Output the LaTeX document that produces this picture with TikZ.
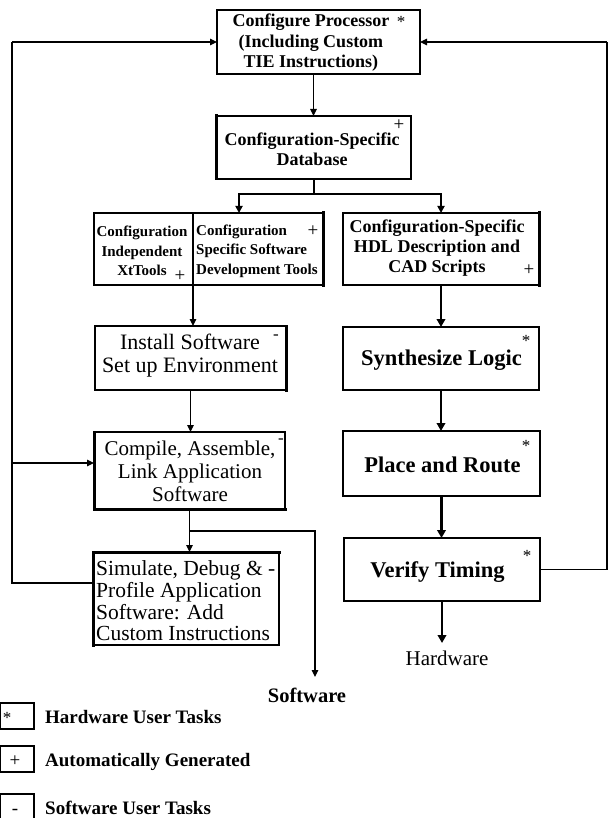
\documentclass[tikz,border=0pt]{standalone}
\usepackage{fontspec}
\setmainfont{Liberation Serif}
\usetikzlibrary{arrows.meta,calc}
\tikzset{
  box/.style={draw, line width=1.5pt, inner sep=0pt, outer sep=0pt},
  side/.style={line width=#1, line cap=rect},
  ln/.style={line width=1.2pt},
  arr/.style={line width=1.2pt, -{Triangle[length=7pt,width=6.5pt]}},
  midarr/.style={line width=2pt, -{Triangle[length=7pt,width=7pt]}},
  thk/.style={line width=2.8pt, -{Triangle[length=8pt,width=8.5pt]}},
  tb18/.style={font=\fontsize{18}{20.5}\selectfont\bfseries, align=center, inner sep=0pt},
  tb15/.style={font=\fontsize{15}{19.5}\selectfont\bfseries, align=center, inner sep=0pt},
  tr22/.style={font=\fontsize{22}{23}\selectfont, align=center, inner sep=0pt},
  tr21/.style={font=\fontsize{21}{23}\selectfont, align=center, inner sep=0pt},
  tb22/.style={font=\fontsize{22.5}{24}\selectfont\bfseries, inner sep=0pt},
  lgd/.style={font=\fontsize{19}{22}\selectfont\bfseries, inner sep=0pt, anchor=west},
  sym/.style={font=\fontsize{19}{19}\selectfont, inner sep=0pt},
  dsh/.style={font=\fontsize{17}{17}\selectfont, inner sep=0pt},
  star/.style={font=\fontsize{17}{17}\selectfont, inner sep=0pt},
}
\begin{document}
\begin{tikzpicture}[x=1pt,y=-1pt]
\useasboundingbox (0,0) rectangle (614,818);

% ---- top box
\node[box, line width=1.7pt, minimum width=203pt, minimum height=64pt] (top) at (318.5,42) {};
\node[tb18] (topt) at (311,43) {Configure Processor\\(Including Custom\\TIE Instructions)};
\node[star] (tops) at (401,22) {*};

% ---- database
\node[box, line width=1.3pt, minimum width=195pt, minimum height=63pt] (db) at (313.5,147.5) {};
\draw[side=3pt] (db.north west) -- (db.south west);
\node[tb18] (dbt) at (312,149.5) {Configuration-Specific\\Database};
\node[sym] (dbs) at (399,125) {+};

% ---- split software tools box
\node[box, minimum width=99pt, minimum height=72pt] (sl) at (143.5,249) {};
\node[box, minimum width=130pt, minimum height=72pt] (sr) at (258,249) {};
\draw[side=2.6pt] (sl.north west) -- (sr.north east);
\draw[side=3pt] (sr.north east) -- (sr.south east);
\draw[side=2.2pt] (sl.north west) -- (sl.south west);
\node[tb15] (slt) at (142,251) {Configuration\\Independent\\XtTools};
\node[sym] (sls) at (180,276) {+};
\node[tb15, align=left, anchor=west] (srt) at (196,251) {Configuration\\Specific Software\\Development Tools};
\node[sym] (srs) at (313,231) {+};

% ---- HDL box
\node[box, minimum width=196pt, minimum height=72pt] (hdl) at (441,249) {};
\draw[side=2.6pt] (hdl.north west) -- (hdl.north east);
\draw[side=3pt] (hdl.north east) -- (hdl.south east);
\node[tb18, font=\fontsize{18}{20}\selectfont\bfseries] (hdlt) at (437,248) {Configuration-Specific\\HDL Description and\\CAD Scripts};
\node[sym] (hdls) at (529,270) {+};

% ---- install
\node[box, line width=2.5pt, minimum width=191pt, minimum height=64pt] (inst) at (190.5,358) {};
\draw[side=3pt] (inst.north east) -- (inst.south east);
\node[tr22] (instt) at (190,356) {Install Software\\Set up Environment};
\node[dsh] (insts) at (276,337) {-};

% ---- compile
\node[box, line width=1.4pt, minimum width=191pt, minimum height=77pt] (comp) at (189.5,470.5) {};
\draw[side=3pt] (comp.north west) -- (comp.south west);
\draw[side=3pt] (comp.south west) -- (comp.south east);
\node[tr21] (compt) at (190,471) {Compile, Assemble,\\Link Application\\Software};
\node[dsh] (comps) at (281,441) {-};

% ---- simulate
\node[box, line width=1.8pt, minimum width=186pt, minimum height=93pt] (sim) at (186,598.5) {};
\draw[side=3pt] (sim.north west) -- (sim.north east);
\draw[side=3pt] (sim.north west) -- (sim.south west);
\node[font=\fontsize{21.5}{21.7}\selectfont, align=left, anchor=west, inner sep=0pt] (simt) at (96,601) {Simulate, Debug \& -\\Profile Application\\Software: Add\\Custom Instructions};

% ---- hardware flow
\node[box, line width=2.7pt, minimum width=196pt, minimum height=63pt] (syn) at (441,358.5) {};
\node[tb22] (synt) at (441.5,360) {Synthesize Logic};
\node[star] (syns) at (526,341) {*};

\node[box, line width=2.5pt, minimum width=197pt, minimum height=65pt] (place) at (441.5,463.5) {};
\node[tb22] (placet) at (442.5,465) {Place and Route};
\node[star] (places) at (526,446) {*};

\node[box, line width=2.8pt, minimum width=196pt, minimum height=63pt] (ver) at (442,569.5) {};
\node[tb22] (vert) at (437.5,572) {Verify Timing};
\node[star] (vers) at (527,556) {*};

% ---- connectors
\draw[arr] (db.north |- top.south) -- (db.north);
\coordinate (jL) at (239,194);
\coordinate (jR) at (441,194);
\draw[line width=2pt] (db.south) -- (db.south |- jL);
\draw[line width=2pt, line cap=rect] (jL) -- (jR);
\draw[midarr] (jL) -- (jL |- sr.north);
\draw[midarr] (jR) -- (hdl.north);

\draw[arr] (sr.south west) -- (sr.south west |- inst.north);
\draw[arr] (inst.south) -- (inst.south |- comp.north);
\draw[arr] (comp.south) -- (comp.south |- sim.north);
\coordinate (b1) at (189.5,531);
\coordinate (swend) at (315,677);
\draw[arr] (b1) -| (swend);
\node[font=\fontsize{20.5}{20.5}\selectfont\bfseries, inner sep=0pt] (sw) at (307,695) {Software};

\coordinate (L1) at (12,583);
\coordinate (L2) at (12,42);
\coordinate (L3) at (12,463);
\draw[ln] (sim.west |- L1) -- (L1) -- (L2);
\draw[arr] (L2) -- (top.west);
\draw[arr] (L3) -- (comp.west |- L3);

\coordinate (R1) at (607,569.5);
\coordinate (R2) at (607,42);
\draw[ln] (ver.east) -- (R1) -- (R2);
\draw[arr] (R2) -- (top.east);

\draw[thk] (hdl.south) -- (syn.north);
\draw[thk] (syn.south) -- (syn.south |- place.north);
\draw[thk] (place.south) -- (place.south |- ver.north);
\coordinate (hwend) at (442,643);
\draw[thk] (ver.south) -- (hwend);
\node[font=\fontsize{21}{21}\selectfont, inner sep=0pt] (hw) at (447,658) {Hardware};

% ---- legend
\node[box, line width=1.8pt, minimum width=34pt, minimum height=26pt] (lg1) at (17,716) {};
\draw[side=2.5pt] (lg1.north east) -- (lg1.south east);
\node[star] (lg1s) at (7,718) {*};
\node[lgd] (lg1t) at (45,717) {Hardware User Tasks};

\node[box, line width=1.8pt, minimum width=34pt, minimum height=26pt] (lg2) at (17,759) {};
\draw[side=2.5pt] (lg2.north east) -- (lg2.south east);
\node[sym] (lg2s) at (15,761) {+};
\node[lgd] (lg2t) at (45,762) {Automatically Generated};

\node[box, line width=1.8pt, minimum width=34pt, minimum height=26pt] (lg3) at (17,807) {};
\draw[side=2.5pt] (lg3.north east) -- (lg3.south east);
\node[sym, anchor=base] (lg3s) at (15,814) {-};
\node[lgd] (lg3t) at (45,807.5) {Software User Tasks};
\end{tikzpicture}
\end{document}
